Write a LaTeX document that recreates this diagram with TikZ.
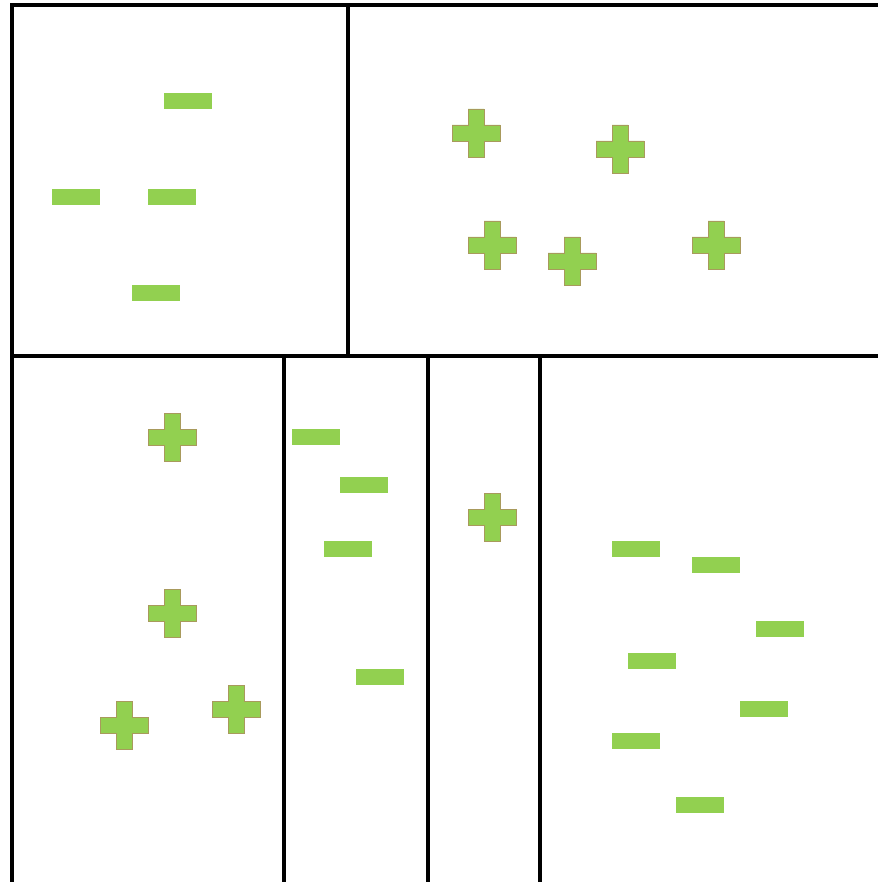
\documentclass[tikz,border=0pt]{standalone}
\usepackage{tikz}
\definecolor{leaf}{HTML}{92D050}
\definecolor{leafedge}{HTML}{A89A5C}
\tikzset{
  wall/.style={line width=3.2pt, draw=black, line cap=rect},
  minusmark/.style={fill=leaf},
  plusmark/.style={fill=leaf, draw=leafedge, line width=0.8pt},
}
\newcommand{\drawminus}[2]{%
  \fill[minusmark] (#1-24,#2-8) rectangle (#1+24,#2+8);}
\newcommand{\drawplus}[2]{%
  \filldraw[plusmark] (#1-8,#2-24) -- (#1+8,#2-24) -- (#1+8,#2-8)
    -- (#1+24,#2-8) -- (#1+24,#2+8) -- (#1+8,#2+8) -- (#1+8,#2+24)
    -- (#1-8,#2+24) -- (#1-8,#2+8) -- (#1-24,#2+8) -- (#1-24,#2-8)
    -- (#1-8,#2-8) -- cycle;}
\begin{document}
\begin{tikzpicture}[x=1pt, y=-1pt]
  \useasboundingbox (0,0) rectangle (877,882);

  % --- the cuts of the region ---
  \draw[wall] (12,882) -- (12,5) -- (877,5);
  \draw[wall] (12,356) -- (877,356);
  \draw[wall] (348,5) -- (348,356);
  \foreach \x in {284, 428, 540}
    \draw[wall] (\x,356) -- (\x,882);

  % --- negative points ---
  \foreach \x/\y in {188/101, 76/197, 172/197, 156/293,
                     316/437, 364/485, 348/549, 380/677,
                     636/549, 716/565, 780/629, 652/661,
                     764/709, 636/741, 700/805}{
    \drawminus{\x}{\y}
  }

  % --- positive points ---
  \foreach \x/\y in {476/133, 620/149, 492/245, 572/261, 716/245,
                     172/437, 172/613, 124/725, 236/709,
                     492/517}{
    \drawplus{\x}{\y}
  }
\end{tikzpicture}
\end{document}
